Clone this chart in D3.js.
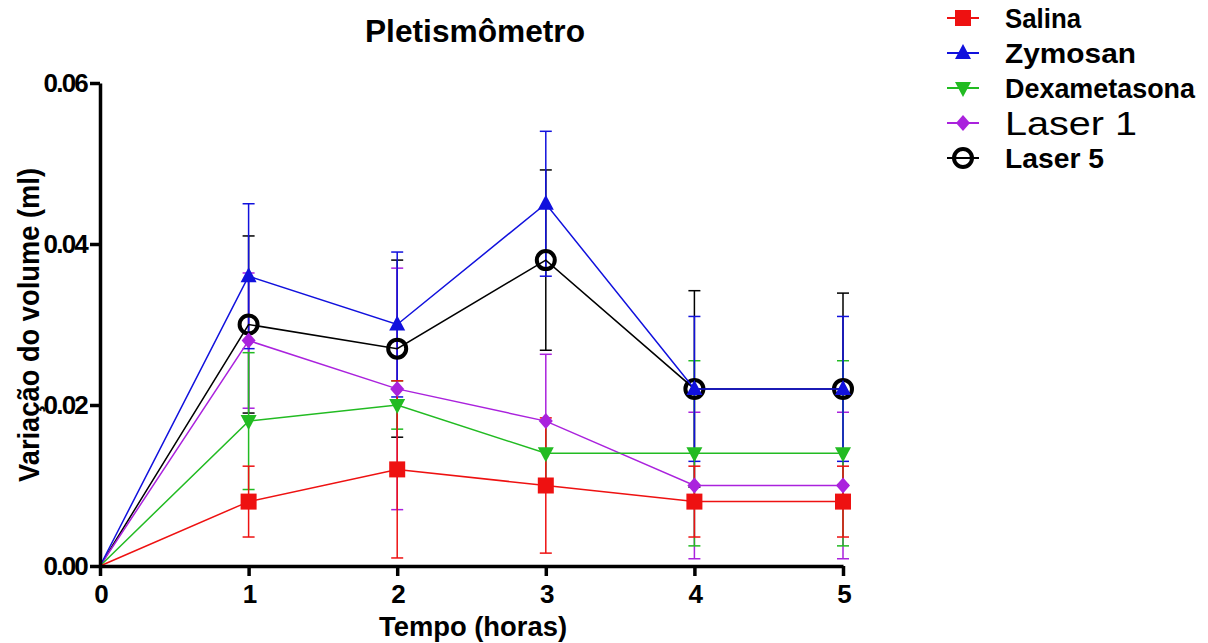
<!DOCTYPE html>
<html>
<head>
<meta charset="utf-8">
<script src="https://cdn.jsdelivr.net/npm/d3@7/dist/d3.min.js"></script>
<style>
  body { margin: 0; background: #fff; }
  svg { display: block; font-family: "Liberation Sans", Arial, sans-serif; }
</style>
</head>
<body>
<div id="chart"></div>
<script>
// time points (hours)
var tempos = [0, 1, 2, 3, 4, 5];

// means and SEM per group (ml)
var salina      = [0, 0.008, 0.012, 0.010, 0.008, 0.008];
var salinaErr   = [0, 0.0044, 0.011, 0.0084, 0.0044, 0.0044];
var zymosan     = [0, 0.036, 0.030, 0.045, 0.022, 0.022];
var zymosanErr  = [0, 0.009, 0.009, 0.009, 0.009, 0.009];
var dexa        = [0, 0.018, 0.020, 0.014, 0.014, 0.014];
var dexaErr     = [0, 0.0085, 0.003, 0.004, 0.0115, 0.0115];
var laser1      = [0, 0.028, 0.022, 0.018, 0.010, 0.010];
var laser1Err   = [0, 0.0084, 0.015, 0.0083, 0.0091, 0.0091];
var laser5      = [0, 0.030, 0.027, 0.038, 0.022, 0.022];
var laser5Err   = [0, 0.011, 0.011, 0.0112, 0.0122, 0.0119];

var yTicks = [0, 0.02, 0.04, 0.06];

var series = [
  {name: "Salina",       mean: salina,  err: salinaErr,  color: "#ee1111", shape: "square"},
  {name: "Zymosan",      mean: zymosan, err: zymosanErr, color: "#1111dd", shape: "triangle"},
  {name: "Dexametasona", mean: dexa,    err: dexaErr,    color: "#22bb22", shape: "triangleDown"},
  {name: "Laser 1",      mean: laser1,  err: laser1Err,  color: "#aa22dd", shape: "diamond"},
  {name: "Laser 5",      mean: laser5,  err: laser5Err,  color: "#000000", shape: "circle"}
];

var W = 1208, H = 643;
var svg = d3.select("#chart").append("svg")
    .attr("width", W)
    .attr("height", H);

var x = d3.scaleLinear().domain([0, 5]).range([100, 843]);
var y = d3.scaleLinear().domain([0, 0.06]).range([566, 83]);

// marker drawing
function marker(g, shape, color, cx, cy) {
  if (shape == "square") {
    g.append("rect").attr("x", cx - 8).attr("y", cy - 8)
      .attr("width", 16).attr("height", 16).attr("fill", color);
  } else if (shape == "triangle") {
    g.append("path").attr("d", "M" + cx + "," + (cy - 9) + "L" + (cx + 8) + "," + (cy + 6) + "L" + (cx - 8) + "," + (cy + 6) + "Z")
      .attr("fill", color);
  } else if (shape == "triangleDown") {
    g.append("path").attr("d", "M" + cx + "," + (cy + 9) + "L" + (cx + 8) + "," + (cy - 6) + "L" + (cx - 8) + "," + (cy - 6) + "Z")
      .attr("fill", color);
  } else if (shape == "diamond") {
    g.append("path").attr("d", "M" + cx + "," + (cy - 8) + "L" + (cx + 7) + "," + cy + "L" + cx + "," + (cy + 8) + "L" + (cx - 7) + "," + cy + "Z")
      .attr("fill", color);
  } else {
    g.append("circle").attr("cx", cx).attr("cy", cy).attr("r", 9)
      .attr("fill", "none").attr("stroke", color).attr("stroke-width", 4);
  }
}

// error bars first (drawn back to front)
var errG = svg.append("g");
series.slice().reverse().forEach(function(s) {
  tempos.forEach(function(t, i) {
    if (s.err[i] <= 0) return;
    var px = x(t), top = y(s.mean[i] + s.err[i]), bot = y(s.mean[i] - s.err[i]);
    errG.append("line").attr("x1", px).attr("x2", px).attr("y1", top).attr("y2", bot)
      .attr("stroke", s.color).attr("stroke-width", 1.5);
    [top, bot].forEach(function(v) {
      errG.append("line").attr("x1", px - 6).attr("x2", px + 6).attr("y1", v).attr("y2", v)
        .attr("stroke", s.color).attr("stroke-width", 1.5);
    });
  });
});

// lines and markers
var line = d3.line().x(function(d) { return x(d[0]); }).y(function(d) { return y(d[1]); });
series.slice().reverse().forEach(function(s) {
  var g = svg.append("g");
  g.append("path")
    .attr("d", line(tempos.map(function(t, i) { return [t, s.mean[i]]; })))
    .attr("fill", "none").attr("stroke", s.color).attr("stroke-width", 1.5);
  tempos.forEach(function(t, i) {
    if (i == 0) return;
    marker(g, s.shape, s.color, x(t), y(s.mean[i]));
  });
});

// axes
var xAxis = svg.append("g").attr("transform", "translate(0,566)")
  .call(d3.axisBottom(x).tickValues(tempos).tickSize(10).tickSizeOuter(0).tickPadding(8).tickFormat(d3.format("d")));
var yAxis = svg.append("g").attr("transform", "translate(100,0)")
  .call(d3.axisLeft(y).tickValues(yTicks).tickSize(10).tickSizeOuter(0).tickPadding(3).tickFormat(d3.format(".2f")));

[xAxis, yAxis].forEach(function(a) {
  a.select(".domain").attr("stroke", "#000").attr("stroke-width", 3.5);
  a.selectAll(".tick line").attr("stroke", "#000").attr("stroke-width", 3.5);
  a.selectAll(".tick text").attr("fill", "#000")
    .style("font-size", "26px").style("font-weight", "bold")
    .style("font-family", "'Liberation Sans', Arial, sans-serif")
    .style("letter-spacing", "-1.8px");
});
xAxis.selectAll(".tick text").attr("dy", "0.72em");

// titles
svg.append("text").attr("x", 475).attr("y", 42).attr("text-anchor", "middle")
  .attr("textLength", 220).attr("lengthAdjust", "spacingAndGlyphs")
  .style("font-size", "31px").style("font-weight", "bold").text("Pletismômetro");

svg.append("text").attr("x", 473).attr("y", 636).attr("text-anchor", "middle")
  .attr("textLength", 188).attr("lengthAdjust", "spacingAndGlyphs")
  .style("font-size", "28px").style("font-weight", "bold").text("Tempo (horas)");

svg.append("text").attr("transform", "translate(39,325) rotate(-90)").attr("text-anchor", "middle")
  .attr("textLength", 314).attr("lengthAdjust", "spacingAndGlyphs")
  .style("font-size", "30px").style("font-weight", "bold").text("Variação do volume (ml)");

// legend
var legendW = [76, 131, 190, 132, 99];
var legend = svg.append("g");
series.forEach(function(s, i) {
  var cy = 18 + i * 35;
  legend.append("line").attr("x1", 947).attr("x2", 979).attr("y1", cy).attr("y2", cy)
    .attr("stroke", s.color).attr("stroke-width", 2);
  marker(legend, s.shape, s.color, 963, cy);
  var bold = s.name != "Laser 1";
  legend.append("text").attr("x", 1005).attr("y", cy + (bold ? 10 : 12))
    .attr("textLength", legendW[i]).attr("lengthAdjust", "spacingAndGlyphs")
    .style("font-size", bold ? "28px" : "34px")
    .style("font-weight", bold ? "bold" : "normal")
    .text(s.name);
});
</script>
</body>
</html>
